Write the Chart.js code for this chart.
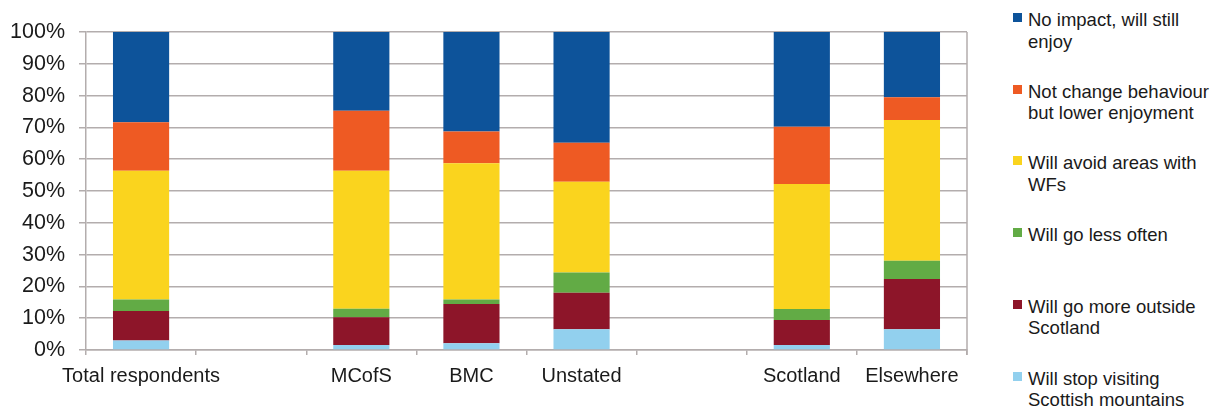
<!DOCTYPE html>
<html lang="en">
<head>
  <meta charset="UTF-8"/>
  <title>Impact of wind farms on mountain visits</title>
  <script src="https://cdn.jsdelivr.net/npm/chart.js"></script>
  <style>
    body {
      margin: 0;
      background: #fff;
      font-family: "Liberation Sans", Arial, sans-serif;
    }
    #wrap {
      position: relative;
      width: 1224px;
      height: 409px;
      overflow: hidden;
    }
    #chartBox {
      position: absolute;
      left: 0;
      top: 0;
      width: 970px;
      height: 409px;
    }
    #legend {
      position: absolute;
      left: 1010px;
      top: 0;
      width: 214px;
      height: 409px;
    }
    .item {
      position: absolute;
      left: 0;
      font-size: 18.5px;
      line-height: 21.5px;
      color: #1a1a1a;
      white-space: pre-line;
      padding-left: 18px;
    }
    .item i {
      position: absolute;
      left: 3px;
      top: 4px;
      width: 9px;
      height: 9px;
    }
  </style>
</head>
<body>
  <div id="wrap">
    <div id="chartBox"><canvas id="c"></canvas></div>
    <div id="legend"></div>
  </div>
  <script>
    // blank slots keep the gaps between the groups
    const categories = ['Total respondents', '', 'MCofS', 'BMC', 'Unstated', '', 'Scotland', 'Elsewhere'];

    // percentages, bottom segment first
    const stopVisiting = [3.0, null, 1.6, 2.1, 6.5, null, 1.6, 6.5];
    const goOutside    = [9.3, null, 8.7, 12.4, 11.5, null, 7.8, 15.8];
    const lessOften    = [3.6, null, 2.7, 1.4, 6.4, null, 3.5, 5.8];
    const avoidAreas   = [40.5, null, 43.4, 42.8, 28.5, null, 39.3, 44.2];
    const lowerEnjoy   = [15.2, null, 18.8, 10.0, 12.3, null, 18.0, 7.2];
    const noImpact     = [28.4, null, 24.8, 31.3, 34.8, null, 29.8, 20.5];

    const yTicks = [0, 10, 20, 30, 40, 50, 60, 70, 80, 90, 100];

    const series = [
      { label: 'Will stop visiting\nScottish mountains', data: stopVisiting, color: '#92d0ee' },
      { label: 'Will go more outside\nScotland', data: goOutside, color: '#8d1529' },
      { label: 'Will go less often', data: lessOften, color: '#62ab45' },
      { label: 'Will avoid areas with\nWFs', data: avoidAreas, color: '#fad41e' },
      { label: 'Not change behaviour\nbut lower enjoyment', data: lowerEnjoy, color: '#ee5a23' },
      { label: 'No impact, will still\nenjoy', data: noImpact, color: '#0d539a' }
    ];

    const rightBorder = {
      id: 'rightBorder',
      afterDatasetsDraw(chart) {
        const a = chart.chartArea, ctx = chart.ctx;
        ctx.save();
        ctx.strokeStyle = '#b3adad';
        ctx.lineWidth = 1.5;
        ctx.beginPath();
        ctx.moveTo(a.right, a.top);
        ctx.lineTo(a.right, a.bottom + 5);
        ctx.stroke();
        ctx.restore();
      }
    };

    new Chart(document.getElementById('c'), {
      type: 'bar',
      data: {
        labels: categories,
        datasets: series.map(s => ({
          label: s.label,
          data: s.data,
          backgroundColor: s.color,
          borderWidth: 0,
          barPercentage: 0.51,
          categoryPercentage: 1
        }))
      },
      options: {
        responsive: true,
        maintainAspectRatio: false,
        animation: false,
        layout: { padding: { top: 32, right: 3, bottom: 0, left: 0 } },
        plugins: {
          legend: { display: false },
          tooltip: { enabled: false }
        },
        scales: {
          x: {
            stacked: true,
            afterFit: s => { s.height = 59; },
            grid: { drawOnChartArea: false, tickLength: 5, color: '#b3adad', lineWidth: 1.5 },
            border: { color: '#b3adad', width: 1.5 },
            ticks: {
              padding: 9,
              color: '#1a1a1a',
              maxRotation: 0,
              autoSkip: false,
              font: { family: '"Liberation Sans", Arial, sans-serif', size: 20 }
            }
          },
          y: {
            stacked: true,
            min: 0,
            max: 100,
            afterFit: s => { s.width = 86; },
            afterBuildTicks: s => { s.ticks = yTicks.map(v => ({ value: v })); },
            grid: { color: '#b3adad', lineWidth: 1.5, tickLength: 7 },
            border: { color: '#b3adad', width: 1.5 },
            ticks: {
              padding: 14,
              color: '#1a1a1a',
              callback: v => v + '%',
              font: { family: '"Liberation Sans", Arial, sans-serif', size: 21.5 }
            }
          }
        }
      },
      plugins: [rightBorder]
    });

    // legend on the right, top entry = top segment
    const legend = document.getElementById('legend');
    series.slice().reverse().forEach((s, i) => {
      const d = document.createElement('div');
      d.className = 'item';
      d.style.top = (9 + i * 71.7) + 'px';
      d.innerHTML = '<i style="background:' + s.color + '"></i>';
      d.appendChild(document.createTextNode(s.label));
      legend.appendChild(d);
    });
  </script>
</body>
</html>
